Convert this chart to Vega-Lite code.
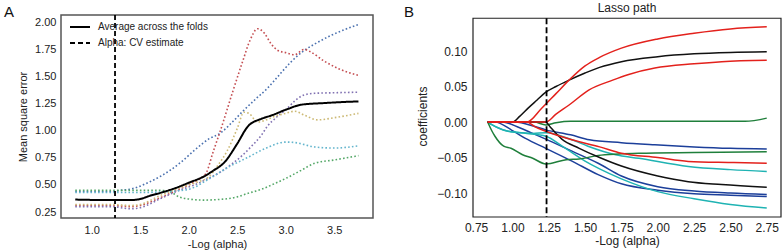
{
  "$schema": "https://vega.github.io/schema/vega-lite/v6.json",
  "padding": {"left": 3, "top": 2, "right": 0, "bottom": 0},
  "config": {
    "font": "Liberation Sans",
    "axis": {"grid": false, "ticks": false, "domain": false, "labelColor": "#222", "titleColor": "#222", "titleFontWeight": "normal"}
  },
  "resolve": {"scale": {"color": "independent", "strokeDash": "independent"}, "legend": {"color": "independent", "strokeDash": "independent"}},
  "spacing": 30,
  "datasets": {
    "folds": [
      {"fold": "Fold 1", "alpha": 0.83, "mse": 0.44}, {"fold": "Fold 1", "alpha": 1.0, "mse": 0.44}, {"fold": "Fold 1", "alpha": 1.2, "mse": 0.44}, {"fold": "Fold 1", "alpha": 1.3, "mse": 0.45}, {"fold": "Fold 1", "alpha": 1.44, "mse": 0.47}, {"fold": "Fold 1", "alpha": 1.6, "mse": 0.53}, {"fold": "Fold 1", "alpha": 1.71, "mse": 0.58}, {"fold": "Fold 1", "alpha": 1.8, "mse": 0.63}, {"fold": "Fold 1", "alpha": 1.92, "mse": 0.71}, {"fold": "Fold 1", "alpha": 2.06, "mse": 0.82}, {"fold": "Fold 1", "alpha": 2.2, "mse": 0.92}, {"fold": "Fold 1", "alpha": 2.33, "mse": 0.98}, {"fold": "Fold 1", "alpha": 2.45, "mse": 1.08}, {"fold": "Fold 1", "alpha": 2.57, "mse": 1.19}, {"fold": "Fold 1", "alpha": 2.7, "mse": 1.3}, {"fold": "Fold 1", "alpha": 2.81, "mse": 1.39}, {"fold": "Fold 1", "alpha": 2.9, "mse": 1.48}, {"fold": "Fold 1", "alpha": 3.05, "mse": 1.63}, {"fold": "Fold 1", "alpha": 3.19, "mse": 1.74}, {"fold": "Fold 1", "alpha": 3.3, "mse": 1.8}, {"fold": "Fold 1", "alpha": 3.47, "mse": 1.88}, {"fold": "Fold 1", "alpha": 3.6, "mse": 1.93}, {"fold": "Fold 1", "alpha": 3.75, "mse": 1.98},
      {"fold": "Fold 2", "alpha": 0.83, "mse": 0.45}, {"fold": "Fold 2", "alpha": 1.2, "mse": 0.45}, {"fold": "Fold 2", "alpha": 1.5, "mse": 0.45}, {"fold": "Fold 2", "alpha": 1.7, "mse": 0.45}, {"fold": "Fold 2", "alpha": 1.8, "mse": 0.44}, {"fold": "Fold 2", "alpha": 1.9, "mse": 0.39}, {"fold": "Fold 2", "alpha": 2.0, "mse": 0.37}, {"fold": "Fold 2", "alpha": 2.15, "mse": 0.36}, {"fold": "Fold 2", "alpha": 2.3, "mse": 0.365}, {"fold": "Fold 2", "alpha": 2.5, "mse": 0.39}, {"fold": "Fold 2", "alpha": 2.6, "mse": 0.42}, {"fold": "Fold 2", "alpha": 2.75, "mse": 0.46}, {"fold": "Fold 2", "alpha": 2.88, "mse": 0.51}, {"fold": "Fold 2", "alpha": 3.0, "mse": 0.56}, {"fold": "Fold 2", "alpha": 3.15, "mse": 0.63}, {"fold": "Fold 2", "alpha": 3.3, "mse": 0.7}, {"fold": "Fold 2", "alpha": 3.5, "mse": 0.73}, {"fold": "Fold 2", "alpha": 3.75, "mse": 0.77},
      {"fold": "Fold 3", "alpha": 0.83, "mse": 0.31}, {"fold": "Fold 3", "alpha": 1.2, "mse": 0.31}, {"fold": "Fold 3", "alpha": 1.4, "mse": 0.3}, {"fold": "Fold 3", "alpha": 1.5, "mse": 0.31}, {"fold": "Fold 3", "alpha": 1.7, "mse": 0.38}, {"fold": "Fold 3", "alpha": 1.9, "mse": 0.46}, {"fold": "Fold 3", "alpha": 2.0, "mse": 0.5}, {"fold": "Fold 3", "alpha": 2.1, "mse": 0.55}, {"fold": "Fold 3", "alpha": 2.18, "mse": 0.61}, {"fold": "Fold 3", "alpha": 2.25, "mse": 0.8}, {"fold": "Fold 3", "alpha": 2.33, "mse": 1.01}, {"fold": "Fold 3", "alpha": 2.45, "mse": 1.35}, {"fold": "Fold 3", "alpha": 2.56, "mse": 1.65}, {"fold": "Fold 3", "alpha": 2.63, "mse": 1.83}, {"fold": "Fold 3", "alpha": 2.71, "mse": 1.94}, {"fold": "Fold 3", "alpha": 2.78, "mse": 1.9}, {"fold": "Fold 3", "alpha": 2.85, "mse": 1.8}, {"fold": "Fold 3", "alpha": 2.92, "mse": 1.74}, {"fold": "Fold 3", "alpha": 3.0, "mse": 1.72}, {"fold": "Fold 3", "alpha": 3.09, "mse": 1.7}, {"fold": "Fold 3", "alpha": 3.19, "mse": 1.75}, {"fold": "Fold 3", "alpha": 3.25, "mse": 1.73}, {"fold": "Fold 3", "alpha": 3.4, "mse": 1.64}, {"fold": "Fold 3", "alpha": 3.55, "mse": 1.57}, {"fold": "Fold 3", "alpha": 3.75, "mse": 1.51},
      {"fold": "Fold 4", "alpha": 0.83, "mse": 0.3}, {"fold": "Fold 4", "alpha": 1.2, "mse": 0.3}, {"fold": "Fold 4", "alpha": 1.4, "mse": 0.28}, {"fold": "Fold 4", "alpha": 1.5, "mse": 0.29}, {"fold": "Fold 4", "alpha": 1.7, "mse": 0.37}, {"fold": "Fold 4", "alpha": 1.9, "mse": 0.45}, {"fold": "Fold 4", "alpha": 2.06, "mse": 0.5}, {"fold": "Fold 4", "alpha": 2.2, "mse": 0.56}, {"fold": "Fold 4", "alpha": 2.33, "mse": 0.62}, {"fold": "Fold 4", "alpha": 2.44, "mse": 0.69}, {"fold": "Fold 4", "alpha": 2.55, "mse": 0.77}, {"fold": "Fold 4", "alpha": 2.64, "mse": 0.85}, {"fold": "Fold 4", "alpha": 2.75, "mse": 0.96}, {"fold": "Fold 4", "alpha": 2.81, "mse": 1.04}, {"fold": "Fold 4", "alpha": 2.9, "mse": 1.12}, {"fold": "Fold 4", "alpha": 3.02, "mse": 1.21}, {"fold": "Fold 4", "alpha": 3.1, "mse": 1.28}, {"fold": "Fold 4", "alpha": 3.19, "mse": 1.33}, {"fold": "Fold 4", "alpha": 3.3, "mse": 1.345}, {"fold": "Fold 4", "alpha": 3.5, "mse": 1.35}, {"fold": "Fold 4", "alpha": 3.75, "mse": 1.355},
      {"fold": "Fold 5", "alpha": 0.83, "mse": 0.32}, {"fold": "Fold 5", "alpha": 1.2, "mse": 0.32}, {"fold": "Fold 5", "alpha": 1.4, "mse": 0.31}, {"fold": "Fold 5", "alpha": 1.5, "mse": 0.32}, {"fold": "Fold 5", "alpha": 1.7, "mse": 0.4}, {"fold": "Fold 5", "alpha": 1.9, "mse": 0.47}, {"fold": "Fold 5", "alpha": 2.0, "mse": 0.5}, {"fold": "Fold 5", "alpha": 2.1, "mse": 0.53}, {"fold": "Fold 5", "alpha": 2.2, "mse": 0.57}, {"fold": "Fold 5", "alpha": 2.3, "mse": 0.68}, {"fold": "Fold 5", "alpha": 2.4, "mse": 0.82}, {"fold": "Fold 5", "alpha": 2.5, "mse": 1.02}, {"fold": "Fold 5", "alpha": 2.57, "mse": 1.17}, {"fold": "Fold 5", "alpha": 2.62, "mse": 1.16}, {"fold": "Fold 5", "alpha": 2.71, "mse": 1.08}, {"fold": "Fold 5", "alpha": 2.8, "mse": 1.1}, {"fold": "Fold 5", "alpha": 2.88, "mse": 1.13}, {"fold": "Fold 5", "alpha": 3.0, "mse": 1.16}, {"fold": "Fold 5", "alpha": 3.09, "mse": 1.18}, {"fold": "Fold 5", "alpha": 3.2, "mse": 1.14}, {"fold": "Fold 5", "alpha": 3.33, "mse": 1.1}, {"fold": "Fold 5", "alpha": 3.5, "mse": 1.12}, {"fold": "Fold 5", "alpha": 3.75, "mse": 1.16},
      {"fold": "Fold 6", "alpha": 0.83, "mse": 0.43}, {"fold": "Fold 6", "alpha": 1.2, "mse": 0.43}, {"fold": "Fold 6", "alpha": 1.5, "mse": 0.43}, {"fold": "Fold 6", "alpha": 1.8, "mse": 0.44}, {"fold": "Fold 6", "alpha": 2.0, "mse": 0.46}, {"fold": "Fold 6", "alpha": 2.2, "mse": 0.55}, {"fold": "Fold 6", "alpha": 2.4, "mse": 0.66}, {"fold": "Fold 6", "alpha": 2.6, "mse": 0.75}, {"fold": "Fold 6", "alpha": 2.8, "mse": 0.84}, {"fold": "Fold 6", "alpha": 3.0, "mse": 0.895}, {"fold": "Fold 6", "alpha": 3.1, "mse": 0.89}, {"fold": "Fold 6", "alpha": 3.3, "mse": 0.85}, {"fold": "Fold 6", "alpha": 3.5, "mse": 0.84}, {"fold": "Fold 6", "alpha": 3.75, "mse": 0.86}
    ],
    "average": [
      {"alpha": 0.83, "mse": 0.365}, {"alpha": 1.2, "mse": 0.36}, {"alpha": 1.4, "mse": 0.36}, {"alpha": 1.5, "mse": 0.37}, {"alpha": 1.6, "mse": 0.4}, {"alpha": 1.72, "mse": 0.43}, {"alpha": 1.89, "mse": 0.48}, {"alpha": 2.0, "mse": 0.52}, {"alpha": 2.16, "mse": 0.58}, {"alpha": 2.25, "mse": 0.63}, {"alpha": 2.37, "mse": 0.71}, {"alpha": 2.5, "mse": 0.88}, {"alpha": 2.61, "mse": 1.04}, {"alpha": 2.75, "mse": 1.11}, {"alpha": 2.85, "mse": 1.14}, {"alpha": 3.02, "mse": 1.2}, {"alpha": 3.16, "mse": 1.24}, {"alpha": 3.4, "mse": 1.255}, {"alpha": 3.6, "mse": 1.265}, {"alpha": 3.75, "mse": 1.27}
    ],
    "lasso": [
      {"feature": "Feature 11", "alpha": 0.83, "coef": 0}, {"feature": "Feature 11", "alpha": 0.88, "coef": 0}, {"feature": "Feature 11", "alpha": 1.0, "coef": -0.012}, {"feature": "Feature 11", "alpha": 1.09, "coef": -0.023}, {"feature": "Feature 11", "alpha": 1.23, "coef": -0.037}, {"feature": "Feature 11", "alpha": 1.41, "coef": -0.055}, {"feature": "Feature 11", "alpha": 1.59, "coef": -0.074}, {"feature": "Feature 11", "alpha": 1.75, "coef": -0.087}, {"feature": "Feature 11", "alpha": 2.0, "coef": -0.096}, {"feature": "Feature 11", "alpha": 2.25, "coef": -0.101}, {"feature": "Feature 11", "alpha": 2.5, "coef": -0.103}, {"feature": "Feature 11", "alpha": 2.75, "coef": -0.105},
      {"feature": "Feature 10", "alpha": 0.83, "coef": 0}, {"feature": "Feature 10", "alpha": 0.93, "coef": 0}, {"feature": "Feature 10", "alpha": 1.05, "coef": -0.008}, {"feature": "Feature 10", "alpha": 1.14, "coef": -0.016}, {"feature": "Feature 10", "alpha": 1.23, "coef": -0.024}, {"feature": "Feature 10", "alpha": 1.41, "coef": -0.041}, {"feature": "Feature 10", "alpha": 1.59, "coef": -0.058}, {"feature": "Feature 10", "alpha": 1.75, "coef": -0.076}, {"feature": "Feature 10", "alpha": 2.0, "coef": -0.091}, {"feature": "Feature 10", "alpha": 2.25, "coef": -0.097}, {"feature": "Feature 10", "alpha": 2.5, "coef": -0.1}, {"feature": "Feature 10", "alpha": 2.75, "coef": -0.102},
      {"feature": "Feature 5", "alpha": 0.83, "coef": 0}, {"feature": "Feature 5", "alpha": 1.02, "coef": 0}, {"feature": "Feature 5", "alpha": 1.15, "coef": -0.006}, {"feature": "Feature 5", "alpha": 1.23, "coef": -0.011}, {"feature": "Feature 5", "alpha": 1.4, "coef": -0.018}, {"feature": "Feature 5", "alpha": 1.53, "coef": -0.025}, {"feature": "Feature 5", "alpha": 1.75, "coef": -0.029}, {"feature": "Feature 5", "alpha": 1.98, "coef": -0.032}, {"feature": "Feature 5", "alpha": 2.25, "coef": -0.035}, {"feature": "Feature 5", "alpha": 2.5, "coef": -0.037}, {"feature": "Feature 5", "alpha": 2.75, "coef": -0.038},
      {"feature": "Feature 8", "alpha": 0.83, "coef": 0}, {"feature": "Feature 8", "alpha": 0.9, "coef": -0.008}, {"feature": "Feature 8", "alpha": 0.97, "coef": -0.013}, {"feature": "Feature 8", "alpha": 1.14, "coef": -0.016}, {"feature": "Feature 8", "alpha": 1.23, "coef": -0.015}, {"feature": "Feature 8", "alpha": 1.41, "coef": -0.025}, {"feature": "Feature 8", "alpha": 1.52, "coef": -0.034}, {"feature": "Feature 8", "alpha": 1.71, "coef": -0.046}, {"feature": "Feature 8", "alpha": 1.87, "coef": -0.051}, {"feature": "Feature 8", "alpha": 2.21, "coef": -0.0625}, {"feature": "Feature 8", "alpha": 2.5, "coef": -0.067}, {"feature": "Feature 8", "alpha": 2.75, "coef": -0.0695},
      {"feature": "Feature 12", "alpha": 0.83, "coef": 0}, {"feature": "Feature 12", "alpha": 0.88, "coef": -0.006}, {"feature": "Feature 12", "alpha": 0.97, "coef": -0.013}, {"feature": "Feature 12", "alpha": 1.1, "coef": -0.016}, {"feature": "Feature 12", "alpha": 1.23, "coef": -0.02}, {"feature": "Feature 12", "alpha": 1.35, "coef": -0.035}, {"feature": "Feature 12", "alpha": 1.5, "coef": -0.055}, {"feature": "Feature 12", "alpha": 1.6, "coef": -0.066}, {"feature": "Feature 12", "alpha": 1.75, "coef": -0.08}, {"feature": "Feature 12", "alpha": 2.0, "coef": -0.098}, {"feature": "Feature 12", "alpha": 2.25, "coef": -0.108}, {"feature": "Feature 12", "alpha": 2.5, "coef": -0.116}, {"feature": "Feature 12", "alpha": 2.75, "coef": -0.121},
      {"feature": "Feature 6", "alpha": 0.83, "coef": 0}, {"feature": "Feature 6", "alpha": 0.86, "coef": -0.013}, {"feature": "Feature 6", "alpha": 0.88, "coef": -0.02}, {"feature": "Feature 6", "alpha": 0.94, "coef": -0.034}, {"feature": "Feature 6", "alpha": 0.99, "coef": -0.037}, {"feature": "Feature 6", "alpha": 1.07, "coef": -0.046}, {"feature": "Feature 6", "alpha": 1.14, "coef": -0.051}, {"feature": "Feature 6", "alpha": 1.23, "coef": -0.059}, {"feature": "Feature 6", "alpha": 1.37, "coef": -0.053}, {"feature": "Feature 6", "alpha": 1.46, "coef": -0.052}, {"feature": "Feature 6", "alpha": 1.59, "coef": -0.047}, {"feature": "Feature 6", "alpha": 1.73, "coef": -0.045}, {"feature": "Feature 6", "alpha": 1.87, "coef": -0.044}, {"feature": "Feature 6", "alpha": 2.25, "coef": -0.043}, {"feature": "Feature 6", "alpha": 2.75, "coef": -0.042},
      {"feature": "Feature 4", "alpha": 0.83, "coef": 0}, {"feature": "Feature 4", "alpha": 1.15, "coef": 0}, {"feature": "Feature 4", "alpha": 1.23, "coef": -0.004}, {"feature": "Feature 4", "alpha": 1.3, "coef": -0.001}, {"feature": "Feature 4", "alpha": 1.4, "coef": 0.001}, {"feature": "Feature 4", "alpha": 2.0, "coef": 0.001}, {"feature": "Feature 4", "alpha": 2.6, "coef": 0.001}, {"feature": "Feature 4", "alpha": 2.75, "coef": 0.0055},
      {"feature": "Feature 9", "alpha": 0.83, "coef": 0}, {"feature": "Feature 9", "alpha": 1.23, "coef": 0}, {"feature": "Feature 9", "alpha": 1.26, "coef": -0.007}, {"feature": "Feature 9", "alpha": 1.34, "coef": -0.024}, {"feature": "Feature 9", "alpha": 1.46, "coef": -0.037}, {"feature": "Feature 9", "alpha": 1.6, "coef": -0.05}, {"feature": "Feature 9", "alpha": 1.75, "coef": -0.062}, {"feature": "Feature 9", "alpha": 2.0, "coef": -0.076}, {"feature": "Feature 9", "alpha": 2.21, "coef": -0.084}, {"feature": "Feature 9", "alpha": 2.44, "coef": -0.088}, {"feature": "Feature 9", "alpha": 2.75, "coef": -0.092},
      {"feature": "Feature 2", "alpha": 0.83, "coef": 0}, {"feature": "Feature 2", "alpha": 1.0, "coef": 0}, {"feature": "Feature 2", "alpha": 1.05, "coef": 0.008}, {"feature": "Feature 2", "alpha": 1.11, "coef": 0.02}, {"feature": "Feature 2", "alpha": 1.17, "coef": 0.031}, {"feature": "Feature 2", "alpha": 1.23, "coef": 0.042}, {"feature": "Feature 2", "alpha": 1.3, "coef": 0.05}, {"feature": "Feature 2", "alpha": 1.39, "coef": 0.059}, {"feature": "Feature 2", "alpha": 1.5, "coef": 0.069}, {"feature": "Feature 2", "alpha": 1.6, "coef": 0.077}, {"feature": "Feature 2", "alpha": 1.75, "coef": 0.085}, {"feature": "Feature 2", "alpha": 2.0, "coef": 0.092}, {"feature": "Feature 2", "alpha": 2.25, "coef": 0.096}, {"feature": "Feature 2", "alpha": 2.5, "coef": 0.098}, {"feature": "Feature 2", "alpha": 2.75, "coef": 0.099},
      {"feature": "Feature 7", "alpha": 0.83, "coef": 0}, {"feature": "Feature 7", "alpha": 1.1, "coef": 0}, {"feature": "Feature 7", "alpha": 1.15, "coef": -0.006}, {"feature": "Feature 7", "alpha": 1.23, "coef": -0.013}, {"feature": "Feature 7", "alpha": 1.41, "coef": -0.025}, {"feature": "Feature 7", "alpha": 1.6, "coef": -0.035}, {"feature": "Feature 7", "alpha": 1.75, "coef": -0.044}, {"feature": "Feature 7", "alpha": 2.0, "coef": -0.05}, {"feature": "Feature 7", "alpha": 2.21, "coef": -0.0555}, {"feature": "Feature 7", "alpha": 2.5, "coef": -0.057}, {"feature": "Feature 7", "alpha": 2.75, "coef": -0.058},
      {"feature": "Feature 1", "alpha": 0.83, "coef": 0}, {"feature": "Feature 1", "alpha": 1.1, "coef": 0}, {"feature": "Feature 1", "alpha": 1.2, "coef": 0.019}, {"feature": "Feature 1", "alpha": 1.3, "coef": 0.04}, {"feature": "Feature 1", "alpha": 1.39, "coef": 0.059}, {"feature": "Feature 1", "alpha": 1.5, "coef": 0.079}, {"feature": "Feature 1", "alpha": 1.6, "coef": 0.091}, {"feature": "Feature 1", "alpha": 1.75, "coef": 0.104}, {"feature": "Feature 1", "alpha": 2.0, "coef": 0.117}, {"feature": "Feature 1", "alpha": 2.25, "coef": 0.125}, {"feature": "Feature 1", "alpha": 2.5, "coef": 0.131}, {"feature": "Feature 1", "alpha": 2.75, "coef": 0.134},
      {"feature": "Feature 3", "alpha": 0.83, "coef": 0}, {"feature": "Feature 3", "alpha": 1.23, "coef": 0}, {"feature": "Feature 3", "alpha": 1.3, "coef": 0.011}, {"feature": "Feature 3", "alpha": 1.39, "coef": 0.024}, {"feature": "Feature 3", "alpha": 1.525, "coef": 0.045}, {"feature": "Feature 3", "alpha": 1.69, "coef": 0.059}, {"feature": "Feature 3", "alpha": 1.8, "coef": 0.067}, {"feature": "Feature 3", "alpha": 1.98, "coef": 0.076}, {"feature": "Feature 3", "alpha": 2.25, "coef": 0.082}, {"feature": "Feature 3", "alpha": 2.44, "coef": 0.085}, {"feature": "Feature 3", "alpha": 2.75, "coef": 0.087}
    ]
  },
  "hconcat": [
    {
      "width": 312,
      "height": 203,
      "view": {"stroke": "#555", "strokeWidth": 1.5},
      "encoding": {
        "x": {"type": "quantitative", "scale": {"domain": [0.683, 3.9], "nice": false, "zero": false}, "axis": {"title": "-Log (alpha)", "values": [1, 1.5, 2, 2.5, 3, 3.5], "format": ".1f", "labelFontSize": 11, "titleFontSize": 11, "labelPadding": 6, "titlePadding": 3}},
        "y": {"type": "quantitative", "scale": {"domain": [0.195, 2.067], "nice": false, "zero": false}, "axis": {"title": "Mean square error", "values": [0.25, 0.5, 0.75, 1, 1.25, 1.5, 1.75, 2], "format": ".2f", "labelFontSize": 11, "titleFontSize": 11, "labelPadding": 5, "titlePadding": 6}}
      },
      "layer": [
        {
          "data": {"name": "folds"},
          "mark": {"type": "line", "interpolate": "monotone", "strokeWidth": 1.6, "strokeDash": [1.6, 2.2], "strokeCap": "butt"},
          "encoding": {
            "x": {"field": "alpha"},
            "y": {"field": "mse"},
            "color": {"field": "fold", "type": "nominal", "legend": null, "scale": {"domain": ["Fold 1", "Fold 2", "Fold 3", "Fold 4", "Fold 5", "Fold 6"], "range": ["#4C72B0", "#55A868", "#C44E52", "#8172B2", "#CCB974", "#64B5CD"]}}
          }
        },
        {
          "data": {"name": "average"},
          "mark": {"type": "line", "interpolate": "monotone", "strokeWidth": 2, "color": "black"},
          "encoding": {
            "x": {"field": "alpha"},
            "y": {"field": "mse"},
            "strokeDash": {"datum": "Average across the folds", "type": "nominal", "scale": {"domain": ["Average across the folds", "Alpha: CV estimate"], "range": [[1, 0], [5, 3]]}, "legend": {"orient": "none", "legendX": 8, "legendY": 1, "title": null, "padding": 0, "symbolType": "stroke", "symbolSize": 400, "symbolStrokeWidth": 2, "symbolStrokeColor": "black", "labelFontSize": 10, "labelColor": "#222", "labelOffset": 7, "rowPadding": -8}}
          }
        },
        {
          "data": {"values": [{}]},
          "mark": {"type": "rule", "strokeWidth": 1.8, "color": "black"},
          "encoding": {
            "x": {"datum": 1.24},
            "strokeDash": {"datum": "Alpha: CV estimate", "type": "nominal"}
          }
        },
        {
          "data": {"values": [{}]},
          "mark": {"type": "text", "text": "A", "fontSize": 15, "color": "#111", "baseline": "middle", "align": "center"},
          "encoding": {"x": {"datum": 0.147}, "y": {"datum": 2.095}}
        }
      ]
    },
    {
      "width": 308,
      "height": 202,
      "view": {"stroke": null},
      "encoding": {
        "x": {"type": "quantitative", "scale": {"domain": [0.729, 2.848], "nice": false, "zero": false}, "axis": {"title": "-Log (alpha)", "values": [0.75, 1, 1.25, 1.5, 1.75, 2, 2.25, 2.5, 2.75], "format": ".2f", "labelFontSize": 12, "titleFontSize": 12, "labelPadding": 5, "titlePadding": 2}},
        "y": {"type": "quantitative", "scale": {"domain": [-0.1337, 0.1507], "nice": false, "zero": false}, "axis": {"title": "coefficients", "values": [-0.1, -0.05, 0, 0.05, 0.1], "format": ".2f", "labelFontSize": 12, "titleFontSize": 12, "labelPadding": 6, "titlePadding": 7}}
      },
      "layer": [
        {
          "data": {"values": [{}]},
          "mark": {"type": "rect", "fillOpacity": 0, "stroke": "#222", "strokeWidth": 1.2},
          "encoding": {"x": {"datum": 0.729}, "x2": {"datum": 2.848}, "y": {"datum": 0.1461}, "y2": {"datum": -0.1337}}
        },
        {
          "data": {"name": "lasso"},
          "mark": {"type": "line", "interpolate": "monotone", "strokeWidth": 1.5},
          "encoding": {
            "x": {"field": "alpha"},
            "y": {"field": "coef"},
            "color": {"field": "feature", "type": "nominal", "legend": null, "scale": {"domain": ["Feature 1", "Feature 2", "Feature 3", "Feature 4", "Feature 5", "Feature 6", "Feature 7", "Feature 8", "Feature 9", "Feature 10", "Feature 11", "Feature 12"], "range": ["#e3211c", "#111111", "#e3211c", "#1f7f3b", "#1c3f9a", "#1f7f3b", "#e3211c", "#1fb3b3", "#111111", "#1c3f9a", "#1c3f9a", "#1fb3b3"]}}
          }
        },
        {
          "data": {"values": [{}]},
          "mark": {"type": "rule", "strokeWidth": 1.8, "color": "black", "strokeDash": [6, 3]},
          "encoding": {"x": {"datum": 1.235}, "y": {"datum": 0.1461}, "y2": {"datum": -0.1337}}
        },
        {
          "data": {"values": [{}]},
          "mark": {"type": "text", "text": "B", "fontSize": 15, "color": "#111", "baseline": "middle", "align": "center"},
          "encoding": {"x": {"datum": 0.289}, "y": {"datum": 0.1553}}
        },
        {
          "data": {"values": [{}]},
          "mark": {"type": "text", "text": "Lasso path", "fontSize": 12, "color": "#222", "baseline": "alphabetic", "align": "center"},
          "encoding": {"x": {"datum": 1.7885}, "y": {"datum": 0.1549}}
        }
      ]
    }
  ]
}
